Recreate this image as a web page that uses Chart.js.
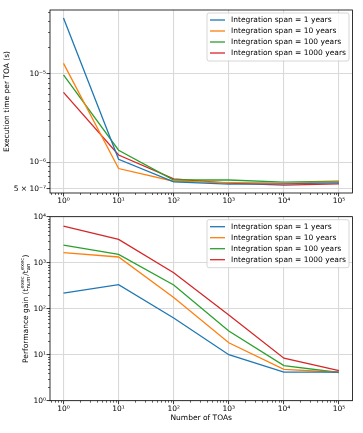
<!DOCTYPE html>
<html>
<head>
<meta charset="utf-8">
<script src="https://cdn.jsdelivr.net/npm/chart.js@4.4.1/dist/chart.umd.min.js"></script>
<style>
    html, body { margin: 0; padding: 0; background: #fff; }
    #wrap { position: relative; width: 363px; height: 433px; }
    #wrap canvas { position: absolute; left: 0; }
    #timeChart { top: 0; }
    #gainChart { top: 204px; }
</style>
</head>
<body>
<div id="wrap">
    <canvas id="timeChart" width="363" height="204"></canvas>
    <canvas id="gainChart" width="363" height="229"></canvas>
</div>
<script>
// Number of TOAs (x values, both panels)
const toaCounts = [1, 10, 100, 1000, 10000, 100000];

const spanLabels = [
    'Integration span = 1 years',
    'Integration span = 10 years',
    'Integration span = 100 years',
    'Integration span = 1000 years'
];
const spanColors = ['#1f77b4', '#ff7f0e', '#2ca02c', '#d62728'];

// Top panel: execution time per TOA (s)
const execTime1 = [4.3e-5, 1.08e-6, 6.0e-7, 5.65e-7, 5.7e-7, 5.85e-7];
const execTime10 = [1.32e-5, 8.5e-7, 6.1e-7, 5.9e-7, 5.85e-7, 6.0e-7];
const execTime100 = [9.8e-6, 1.37e-6, 6.3e-7, 6.3e-7, 5.95e-7, 6.1e-7];
const execTime1000 = [6.2e-6, 1.21e-6, 6.5e-7, 5.8e-7, 5.5e-7, 5.7e-7];

// Bottom panel: performance gain
const gain1 = [219, 333, 63, 10, 4.2, 4.2];
const gain10 = [1650, 1330, 176, 18.2, 4.8, 4.15];
const gain100 = [2420, 1520, 327, 32.7, 5.8, 4.1];
const gain1000 = [6270, 3210, 607, 73, 8.4, 4.5];

// Tick values and labels
const xTickValues = [1, 10, 100, 1000, 10000, 100000];
const xTickLabels = ['10⁰', '10¹', '10²', '10³', '10⁴', '10⁵'];
const timeTickValues = [5e-7, 1e-6, 1e-5];
const timeTickLabels = ['5 × 10⁻⁷', '10⁻⁶', '10⁻⁵'];
const gainTickValues = [1, 10, 100, 1000, 10000];
const gainTickLabels = ['10⁰', '10¹', '10²', '10³', '10⁴'];

const timeTitle = 'Execution time per TOA (s)';
const xTitle = 'Number of TOAs';
// pieces of the mathtext-like label: plain text, or a stacked sup/sub pair
const gainTitleParts = [
    { text: 'Performance gain (t' },
    { sup: 'exec', sub: 'num' },
    { text: '/t' },
    { sup: 'exec', sub: 'an' },
    { text: ')' }
];

const FONT = 'DejaVu Sans';
Chart.defaults.font.family = FONT;
Chart.defaults.font.size = 7.5;
Chart.defaults.color = '#000';

function toPoints(values) {
    return toaCounts.map((n, i) => ({ x: n, y: values[i] }));
}

function makeDatasets(seriesList) {
    return seriesList.map((values, i) => ({
        label: spanLabels[i],
        data: toPoints(values),
        borderColor: spanColors[i],
        backgroundColor: spanColors[i],
        borderWidth: 1.3,
        pointRadius: 0,
        tension: 0,
        fill: false
    }));
}

function minorValues(min, max) {
    const out = [];
    for (let d = Math.floor(Math.log10(min)) - 1; d <= Math.ceil(Math.log10(max)); d++) {
        for (let m = 2; m <= 9; m++) {
            const v = m * Math.pow(10, d);
            if (v >= min && v <= max) out.push(v);
        }
    }
    return out;
}

// Frame, minor ticks and legend box drawn on top of the chart area
const axesDecor = {
    id: 'axesDecor',
    afterDraw(chart) {
        const { ctx, chartArea: a, scales } = chart;
        ctx.save();

        // minor tick marks
        ctx.strokeStyle = '#000';
        ctx.lineWidth = 0.6;
        const majorsX = xTickValues;
        minorValues(scales.x.min, scales.x.max).forEach(v => {
            if (majorsX.some(m => Math.abs(m - v) / m < 1e-9)) return;
            const px = Math.round(scales.x.getPixelForValue(v)) + 0.5;
            ctx.beginPath();
            ctx.moveTo(px, a.bottom);
            ctx.lineTo(px, a.bottom + 2);
            ctx.stroke();
        });
        const majorsY = chart.options.plugins.axesDecor.yMajors;
        minorValues(scales.y.min, scales.y.max).forEach(v => {
            if (majorsY.some(m => Math.abs(m - v) / m < 1e-9)) return;
            const py = Math.round(scales.y.getPixelForValue(v)) + 0.5;
            ctx.beginPath();
            ctx.moveTo(a.left, py);
            ctx.lineTo(a.left - 2, py);
            ctx.stroke();
        });

        // frame
        ctx.lineWidth = 0.8;
        ctx.strokeRect(a.left, a.top, a.right - a.left, a.bottom - a.top);

        // legend
        const boxW = 142, boxH = 48, rowH = 11;
        const bx = a.right - 3.5 - boxW, by = a.top + 3;
        ctx.beginPath();
        ctx.roundRect(bx, by, boxW, boxH, 2);
        ctx.fillStyle = 'rgba(255,255,255,0.8)';
        ctx.fill();
        ctx.strokeStyle = '#cccccc';
        ctx.lineWidth = 0.8;
        ctx.stroke();
        ctx.font = '7.5px "' + FONT + '"';
        ctx.textBaseline = 'middle';
        ctx.textAlign = 'left';
        chart.data.datasets.forEach((ds, i) => {
            const ry = by + 7 + i * rowH;
            ctx.strokeStyle = ds.borderColor;
            ctx.lineWidth = 1.3;
            ctx.beginPath();
            ctx.moveTo(bx + 3, ry);
            ctx.lineTo(bx + 18, ry);
            ctx.stroke();
            ctx.fillStyle = '#000';
            ctx.fillText(ds.label, bx + 24, ry);
        });

        ctx.restore();
    }
};

// Rotated y label with super/subscripts for the gain panel
const gainLabel = {
    id: 'gainLabel',
    afterDraw(chart) {
        if (!chart.options.plugins.gainLabel || !chart.options.plugins.gainLabel.show) return;
        const { ctx, chartArea: a } = chart;
        const mainFont = '7.5px "' + FONT + '"';
        const smallFont = '5.3px "' + FONT + '"';
        ctx.save();
        let total = 0;
        const widths = gainTitleParts.map(p => {
            let w;
            if (p.text) {
                ctx.font = mainFont;
                w = ctx.measureText(p.text).width;
            } else {
                ctx.font = smallFont;
                w = Math.max(ctx.measureText(p.sup).width, ctx.measureText(p.sub).width) + 0.5;
            }
            total += w;
            return w;
        });
        const cy = (a.top + a.bottom) / 2;
        ctx.translate(27.5, cy);
        ctx.rotate(-Math.PI / 2);
        ctx.fillStyle = '#000';
        ctx.textAlign = 'left';
        ctx.textBaseline = 'alphabetic';
        let x = -total / 2;
        gainTitleParts.forEach((p, i) => {
            if (p.text) {
                ctx.font = mainFont;
                ctx.fillText(p.text, x, 0);
            } else {
                ctx.font = smallFont;
                ctx.fillText(p.sup, x, -3.3);
                ctx.fillText(p.sub, x, 2.2);
            }
            x += widths[i];
        });
        ctx.restore();
    }
};

function makeChart(canvasId, seriesList, cfg) {
    const ctx = document.getElementById(canvasId).getContext('2d');
    return new Chart(ctx, {
        type: 'line',
        data: { datasets: makeDatasets(seriesList) },
        options: {
            responsive: false,
            animation: false,
            devicePixelRatio: 1,
            layout: { padding: { left: 0, top: cfg.padTop, right: 10.5, bottom: 0 } },
            scales: {
                x: {
                    type: 'logarithmic',
                    min: Math.pow(10, -0.245),
                    max: Math.pow(10, 5.245),
                    afterBuildTicks: (axis) => {
                        axis.ticks = xTickValues.map(v => ({ value: v }));
                    },
                    afterFit: (axis) => { axis.height = cfg.xHeight; },
                    ticks: {
                        autoSkip: false,
                        maxRotation: 0,
                        padding: 0,
                        color: '#000',
                        callback: (value) => {
                            const i = xTickValues.findIndex(v => Math.abs(v - value) / v < 1e-9);
                            return i >= 0 ? xTickLabels[i] : '';
                        }
                    },
                    grid: {
                        color: '#d9d9d9',
                        lineWidth: 1.1,
                        tickColor: '#000',
                        tickWidth: 0.8,
                        tickLength: 3.5
                    },
                    border: { display: false },
                    title: cfg.xTitle ? {
                        display: true,
                        text: cfg.xTitle,
                        color: '#000',
                        font: { size: 7.5 },
                        padding: { top: 0, bottom: 10.5 }
                    } : { display: false }
                },
                y: {
                    type: 'logarithmic',
                    min: cfg.yMin,
                    max: cfg.yMax,
                    afterBuildTicks: (axis) => {
                        axis.ticks = cfg.yTicks.map(v => ({ value: v }));
                    },
                    afterFit: (axis) => { axis.width = 50; },
                    ticks: {
                        autoSkip: false,
                        padding: 0.5,
                        color: '#000',
                        callback: (value) => {
                            const i = cfg.yTicks.findIndex(v => Math.abs(v - value) / v < 1e-9);
                            return i >= 0 ? cfg.yLabels[i] : '';
                        }
                    },
                    grid: {
                        color: '#d9d9d9',
                        lineWidth: 1.1,
                        tickColor: '#000',
                        tickWidth: 0.8,
                        tickLength: 3.5
                    },
                    border: { display: false },
                    title: cfg.yTitle ? {
                        display: true,
                        text: cfg.yTitle,
                        color: '#000',
                        font: { size: 7.5 },
                        padding: { top: 2.7, bottom: 0 }
                    } : { display: false }
                }
            },
            plugins: {
                legend: { display: false },
                tooltip: { enabled: false },
                axesDecor: { yMajors: cfg.yTicks },
                gainLabel: { show: !!cfg.gainLabel }
            }
        },
        plugins: [axesDecor, gainLabel]
    });
}

makeChart('timeChart', [execTime1, execTime10, execTime100, execTime1000], {
    padTop: 10,
    xHeight: 11,
    yMin: 4.49e-7,
    yMax: 5.31e-5,
    yTicks: timeTickValues,
    yLabels: timeTickLabels,
    yTitle: timeTitle,
    xTitle: null
});

makeChart('gainChart', [gain1, gain10, gain100, gain1000], {
    padTop: 12.7,
    xHeight: 32.3,
    yMin: 1,
    yMax: 10000,
    yTicks: gainTickValues,
    yLabels: gainTickLabels,
    yTitle: null,
    xTitle: xTitle,
    gainLabel: true
});
</script>
</body>
</html>
